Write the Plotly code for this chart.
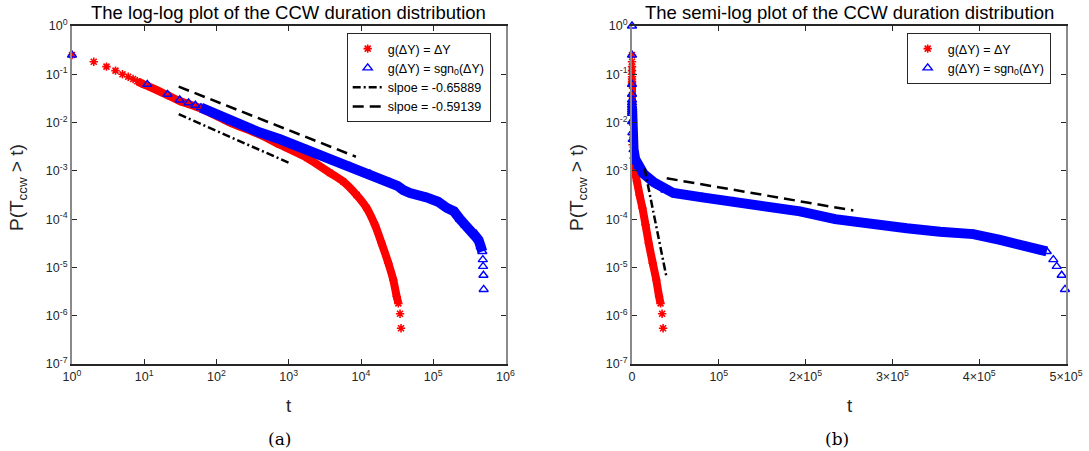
import plotly.graph_objects as go

W, H = 1089, 451

# ---------------- data ----------------
# g(ΔY) = ΔY  (red stars): complementary CDF P(T_ccw > t)
red_t = [1, 2, 3, 4, 5, 6, 7, 8, 9, 10, 11, 21, 31, 59, 154, 400, 757, 1800,
         3720, 5700, 8720, 12000, 15600, 19300, 23900, 28000, 31200, 32900,
         34700, 35800]
red_p = [0.25, 0.182, 0.144, 0.119, 0.100, 0.089, 0.080, 0.0716, 0.066, 0.061,
         0.058, 0.037, 0.028, 0.020, 0.0100, 0.0056, 0.00347, 0.00185,
         0.00091, 0.00060, 0.000316, 0.00017, 0.000076, 0.0000316, 0.0000123,
         0.0000055, 0.0000025, 0.0000018, 0.0000011, 0.00000055]

# g(ΔY) = sgn0(ΔY)  (blue triangles)
blue_t = [0, 1, 11, 21, 31, 41, 51, 61, 71, 81, 91, 154, 400, 757, 1800, 3720,
          7040, 13300, 25200, 32000, 38500, 47700, 81000, 116700, 155000,
          193500, 234000, 278000, 316500, 354800, 393200, 424000, 454700,
          477800, 485400, 489300, 495000, 498800]
blue_p = [1.0, 0.25, 0.062, 0.0385, 0.0294, 0.0257, 0.0229, 0.0204, 0.0184,
          0.0168, 0.0155, 0.0105, 0.0062, 0.0045, 0.00275, 0.00174, 0.00123,
          0.00087, 0.00058, 0.00049, 0.00040, 0.000347, 0.000282, 0.000229,
          0.00017, 0.000145, 0.000100, 0.0000759, 0.0000646, 0.000055,
          0.000049, 0.000037, 0.0000269, 0.0000214, 0.0000145, 0.0000105,
          0.0000069, 0.0000035]

# fitted reference lines (end points)
fitA_t = [30, 1000]          # log-log, slope -0.65889
fitA_p = [0.0149, 0.00147]
fitB_t = [30, 8500]          # log-log, slope -0.59139
fitB_p = [0.0553, 0.00196]
fitC_t = [14500, 39500]      # semi-log, steep
fitC_p = [0.00112, 0.0000066]
fitD_t = [40000, 255000]     # semi-log, shallow
fitD_p = [0.000703, 0.000151]

fitA_name = "slpoe = -0.65889"
fitB_name = "slpoe = -0.59139"
red_name = "g(ΔY) = ΔY"
blue_name = "g(ΔY) = sgn<sub>0</sub>(ΔY)"

logx_vals = [1, 10, 100, 1000, 1e4, 1e5, 1e6]
logx_text = ["10<sup>0</sup>", "10<sup>1</sup>", "10<sup>2</sup>", "10<sup>3</sup>",
             "10<sup>4</sup>", "10<sup>5</sup>", "10<sup>6</sup>"]
linx_vals = [0, 1e5, 2e5, 3e5, 4e5, 5e5]
linx_text = ["0", "10<sup>5</sup>", "2×10<sup>5</sup>", "3×10<sup>5</sup>",
             "4×10<sup>5</sup>", "5×10<sup>5</sup>"]
y_vals = [1, 1e-1, 1e-2, 1e-3, 1e-4, 1e-5, 1e-6, 1e-7]
y_text = ["10<sup>0</sup>", "10<sup>-1</sup>", "10<sup>-2</sup>", "10<sup>-3</sup>",
          "10<sup>-4</sup>", "10<sup>-5</sup>", "10<sup>-6</sup>", "10<sup>-7</sup>"]

titles = ["The log-log plot of the CCW duration distribution",
          "The semi-log plot of the CCW duration distribution"]
captions = ["(a)", "(b)"]

# ---------------- styling ----------------
FONT = "Liberation Sans"
AX = "#262626"
AXV = "#8a8a8a"
RED = "#ff0000"
BLUE = "#0000ff"

def fx(px):
    return px / W

def fy(py):
    return 1 - py / H

fig = go.Figure()

red_band_t = [t for t in red_t if 8 <= t <= 32900]
red_band_p = [p for t, p in zip(red_t, red_p) if 8 <= t <= 32900]
blue_band_t = [t for t in blue_t if 61 <= t <= 477800]
blue_band_p = [p for t, p in zip(blue_t, blue_p) if 61 <= t <= 477800]

for i, (xa, ya, lg) in enumerate([("x", "y", "legend"), ("x2", "y2", "legend2")]):
    fig.add_trace(go.Scatter(x=red_band_t, y=red_band_p, mode="lines",
                             line=dict(color=RED, width=8, shape="spline", smoothing=0.6),
                             xaxis=xa, yaxis=ya, showlegend=False, hoverinfo="skip"))
    fig.add_trace(go.Scatter(x=red_t, y=red_p, mode="markers", name=red_name,
                             marker=dict(symbol="asterisk-open", size=7, color=RED,
                                         line=dict(color=RED, width=1.6)),
                             xaxis=xa, yaxis=ya, legend=lg, cliponaxis=False))
    fig.add_trace(go.Scatter(x=blue_band_t, y=blue_band_p, mode="lines",
                             line=dict(color=BLUE, width=10), xaxis=xa, yaxis=ya,
                             showlegend=False, hoverinfo="skip"))
    fig.add_trace(go.Scatter(x=blue_t, y=blue_p, mode="markers", name=blue_name,
                             marker=dict(symbol="triangle-up-open", size=8, color=BLUE,
                                         line=dict(color=BLUE, width=1.4)),
                             xaxis=xa, yaxis=ya, legend=lg, cliponaxis=False))

DASHDOT = "8px,3px,2px,3px"
DASH = "11px,6px"
fig.add_trace(go.Scatter(x=fitA_t, y=fitA_p, mode="lines", name=fitA_name,
                         line=dict(color="black", width=2.5, dash=DASHDOT),
                         xaxis="x", yaxis="y", legend="legend"))
fig.add_trace(go.Scatter(x=fitB_t, y=fitB_p, mode="lines", name=fitB_name,
                         line=dict(color="black", width=2.5, dash=DASH),
                         xaxis="x", yaxis="y", legend="legend"))
fig.add_trace(go.Scatter(x=fitC_t, y=fitC_p, mode="lines", showlegend=False,
                         line=dict(color="black", width=2.5, dash=DASHDOT),
                         xaxis="x2", yaxis="y2"))
fig.add_trace(go.Scatter(x=fitD_t, y=fitD_p, mode="lines", showlegend=False,
                         line=dict(color="black", width=2.5, dash=DASH),
                         xaxis="x2", yaxis="y2"))

tickfont = dict(family=FONT, size=12.5, color=AX)
axis_common = dict(mirror="ticks", showline=True,
                   ticks="inside", ticklen=5, tickcolor=AX, tickwidth=1,
                   showgrid=False, zeroline=False, tickfont=tickfont,
                   automargin=False)
xstyle = dict(linecolor=AX, linewidth=1.5, **axis_common)
ystyle = dict(linecolor=AXV, linewidth=2, **axis_common)

ydom = [fy(364), fy(26)]
fig.update_layout(
    width=W, height=H, margin=dict(l=0, r=0, t=0, b=0, autoexpand=False),
    paper_bgcolor="white", plot_bgcolor="white",
    xaxis=dict(domain=[fx(72), fx(505.5)], type="log", range=[0, 6],
               tickvals=logx_vals, ticktext=logx_text, anchor="y", **xstyle),
    yaxis=dict(domain=ydom, type="log", range=[-7, 0], tickvals=y_vals,
               ticktext=y_text, anchor="x", **ystyle),
    xaxis2=dict(domain=[fx(632), fx(1066)], type="linear", range=[0, 5e5],
                tickvals=linx_vals, ticktext=linx_text, anchor="y2", **xstyle),
    yaxis2=dict(domain=ydom, type="log", range=[-7, 0], tickvals=y_vals,
                ticktext=y_text, anchor="x2", **ystyle),
    legend=dict(x=fx(346.7), y=fy(33), xanchor="left", yanchor="top",
                bordercolor=AX, borderwidth=1, bgcolor="white",
                font=dict(family=FONT, size=12.5, color="black"),
                tracegroupgap=0),
    legend2=dict(x=fx(906.7), y=fy(33), xanchor="left", yanchor="top",
                 bordercolor=AX, borderwidth=1, bgcolor="white",
                 font=dict(family=FONT, size=12.5, color="black"),
                 tracegroupgap=0),
)

anns = []
for cx, title in zip([288.75, 849], titles):
    anns.append(dict(x=fx(cx), y=fy(13), xref="paper", yref="paper", text=title,
                     showarrow=False, xanchor="center", yanchor="middle",
                     font=dict(family=FONT, size=18.5, color="black")))
for cx in [288.75, 849]:
    anns.append(dict(x=fx(cx), y=fy(405), xref="paper", yref="paper", text="t",
                     showarrow=False, xanchor="center", yanchor="middle",
                     font=dict(family=FONT, size=18.5, color=AX)))
for lx in [18, 578]:
    anns.append(dict(x=fx(lx), y=fy(188), xref="paper", yref="paper",
                     text="P(T<sub>ccw</sub> &gt; t)", textangle=-90,
                     showarrow=False, xanchor="center", yanchor="middle",
                     font=dict(family=FONT, size=19, color=AX)))
for cx, cap in zip([279, 837], captions):
    anns.append(dict(x=fx(cx), y=fy(439), xref="paper", yref="paper", text=cap,
                     showarrow=False, xanchor="center", yanchor="middle",
                     font=dict(family="DejaVu Serif", size=17, color="black")))
fig.update_layout(annotations=anns)

fig.write_html("out.html", config={"displayModeBar": False},
               post_script="document.body.style.margin='0';document.body.style.overflow='hidden';")
